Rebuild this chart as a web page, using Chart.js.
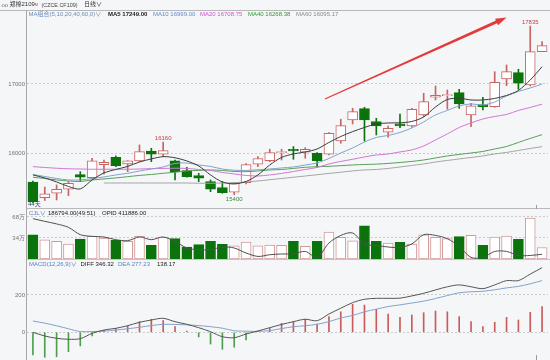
<!DOCTYPE html>
<html><head><meta charset="utf-8">
<script src="https://cdn.jsdelivr.net/npm/chart.js@4.4.0/dist/chart.umd.min.js"></script>
<style>
html,body{margin:0;padding:0;background:#f5f6f8;}
#wrap{position:relative;width:550px;height:360px;overflow:hidden;background:#f5f6f8;font-family:"Liberation Sans",Arial,"Noto Sans CJK SC",sans-serif;}
canvas{position:absolute;left:0;top:0;}
.t{position:absolute;white-space:nowrap;font-size:6px;line-height:7px;}
.ln{position:absolute;background:#b8b8b8;}
</style></head><body>
<div id="wrap">
  <canvas id="cPrice" width="550" height="360"></canvas>
  <canvas id="cVol" width="550" height="360"></canvas>
  <canvas id="cMacd" width="550" height="360"></canvas>

  <div class="ln" style="left:0;top:10px;width:550px;height:1px;"></div>
  <div class="ln" style="left:26px;top:10px;width:1px;height:350px;background:#a8a8a8"></div>
  <div class="ln" style="left:27px;top:208px;width:523px;height:1px;"></div>
  <div class="ln" style="left:27px;top:259px;width:523px;height:1px;background:#c4c4c4"></div>
  <div class="ln" style="left:536px;top:205px;width:1px;height:4px;background:#999"></div>
  <div class="ln" style="left:536px;top:355px;width:1px;height:5px;background:#999"></div>

  <div class="t" style="left:1.5px;top:1.5px;color:#777;">oo</div>
  <div class="t" style="left:9.5px;top:1.2px;color:#333;font-size:6px;">郑棉2109<span style="color:#d04040;font-size:4px;vertical-align:top;">M</span></div>
  <div class="t" style="left:41.5px;top:1.5px;color:#444;font-size:5.4px;">(CZCE CF109)</div>
  <div class="t" style="left:84px;top:1.2px;color:#333;">日线∨</div>

  <div class="t" id="lgMA" style="left:28.5px;top:11px;color:#6c8cbc;"></div>
  <div class="t" id="lgMA5" style="left:108px;top:11px;color:#222;font-weight:bold;"></div>
  <div class="t" id="lgMA10" style="left:153px;top:11px;color:#5f8ac8;"></div>
  <div class="t" id="lgMA20" style="left:200px;top:11px;color:#d050d0;"></div>
  <div class="t" id="lgMA40" style="left:248px;top:11px;color:#2f9a2f;"></div>
  <div class="t" id="lgMA60" style="left:296px;top:11px;color:#8a8a8a;"></div>

  <div class="t" style="left:29px;top:210px;color:#5b7fc0;">CJL∨</div>
  <div class="t" id="lgVol" style="left:48px;top:210px;color:#222;"></div>
  <div class="t" id="lgOI" style="left:102px;top:210px;color:#222;"></div>

  <div class="t" id="lgMacd" style="left:29px;top:261px;color:#5b7fc0;"></div>
  <div class="t" id="lgDiff" style="left:80.5px;top:261px;color:#222;"></div>
  <div class="t" id="lgDea" style="left:118px;top:261px;color:#5b86c5;"></div>
  <div class="t" id="lgHist" style="left:157px;top:261px;color:#222;"></div>
</div>
<script>
// ---------- data ----------
const DAYS = ['1','2','3','4','5','6','7','8','9','10','11','12','13','14','15','16','17','18','19','20','21','22','23','24','25','26','27','28','29','30','31','32','33','34','35','36','37','38','39','40','41','42','43','44'];
const OPEN  = [15584,15358,15423,15481,15691,15648,15836,15942,15846,15889,16033,15986,15889,15749,15677,15590,15504,15437,15576,15841,15893,16009,16058,16014,16000,15986,16177,16481,16644,16456,16303,16423,16394,16553,16808,16831,16874,16553,16701,16672,17072,17163,16986,17466];
const HIGH  = [15600,15512,15543,15590,15734,15928,15903,15961,15893,16120,16072,16160,15903,15798,15711,15615,15590,15580,15850,15951,16058,16058,16096,16081,16009,16298,16491,16649,16664,16505,16394,16567,16649,16866,16971,16913,16923,16722,16808,17177,17274,17212,17835,17612];
const LOW   = [15290,15319,15326,15388,15590,15629,15701,15806,15734,15879,15879,15951,15615,15654,15590,15446,15423,15400,15557,15807,15879,15903,15913,15928,15798,15976,16144,16423,16177,16264,16231,16369,16375,16528,16769,16635,16649,16384,16625,16664,16975,16923,16971,17466];
const CLOSE = [15300,15416,15481,15567,15654,15889,15870,15821,15889,16023,15986,16038,15734,15662,15639,15481,15431,15567,15836,15922,16009,16023,16033,16058,15893,16289,16398,16600,16481,16394,16361,16394,16635,16745,16837,16841,16711,16683,16672,17025,17177,17010,17466,17553];

const MA_PERIODS = [5,10,20,40,60,0];
const MA5  = [15687,15644,15586,15521,15485,15615,15716,15766,15810,15874,15918,15951,15935,15889,15817,15687,15586,15557,15593,15687,15831,15940,15990,16019,16062,16156,16242,16312,16372,16423,16437,16440,16459,16524,16668,16776,16794,16769,16769,16791,16834,16906,17058,17249.00];
const MA10 = [15694,15665,15636,15615,15615,15636,15658,15687,15711,15744,15773,15802,15853,15860,15831,15810,15773,15755,15752,15762,15773,15788,15802,15831,15860,15925,16004,16076,16163,16228,16257,16300,16365,16452,16553,16618,16683,16711,16697,16740,16827,16892,16942,16999.00];
const MA20 = [15807,15795,15784,15776,15773,15769,15769,15769,15769,15773,15778,15781,15784,15781,15766,15752,15723,15701,15680,15672,15687,15709,15737,15766,15795,15846,15882,15913,15947,15975,15990,16019,16048,16105,16192,16279,16372,16437,16495,16531,16560,16618,16661,16708.75];
const MA40 = [15654,15636,15615,15600,15593,15615,15629,15644,15662,15680,15694,15711,15726,15745,15752,15759,15752,15737,15734,15745,15759,15766,15781,15798,15805,15812,15821,15831,15838,15843,15853,15867,15882,15903,15932,15961,15983,16004,16026,16062,16098,16156,16214,16268.38];
const MA60 = [null,null,null,null,null,null,15571,15571,15571,15571,15571,15571,15571,15571,15567,15567,15571,15576,15586,15600,15618,15636,15654,15672,15690,15709,15726,15745,15759,15766,15781,15802,15824,15846,15874,15896,15918,15939,15961,15990,16012,16040,16069,16095.17];

// volume and open interest in 万手
const VOLUME   = [39.3,31.2,28.5,24.3,32.4,36.6,34.0,30.1,28.5,36.6,22.0,35.6,32.9,19.4,23.2,28.5,23.7,21.5,27.5,21.5,22.7,22.0,28.5,20.4,28.5,43.7,35.0,29.6,53.9,28.5,25.9,26.9,24.3,39.3,35.0,32.9,36.1,38.2,22.0,35.6,37.2,31.7,66.4,18.6794];
const OPEN_INT = [44.10,43.88,43.67,43.39,42.79,42.65,42.60,42.38,42.30,42.60,42.38,42.60,42.24,41.70,41.56,41.56,41.78,41.70,41.29,41.01,41.15,41.21,41.23,41.42,40.93,42.11,42.73,42.93,42.03,41.91,41.78,41.75,42.03,42.79,42.73,42.46,41.83,40.93,40.93,41.42,41.42,41.09,41.09,41.1886];

const DIFF = [0,-19.8,-32.2,-37.5,-34.3,-5.4,12.3,21.4,35.4,53.6,65.9,75,56.8,42.9,24.7,3.2,-23.6,-29,-9.1,7,24.7,42,57,70,62,98,129,159,177,182,182,183,195,209,227,244,254,244,234,254,277,277,312,346.32];
const DEA  = [60.6,49,35,19,4,4,6,12,19,27,36,43,42,40,36,30,22,8,6,5,9,20,30,35,43,57,77,90,110,124,138,147,157,167,181,197,212,217,220,228,238,246,260,277.23];
const MACD = [-121,-134,-131,-104,-73,-20,10,21,34,57,70,63,30,6,-25,-63,-91,-80,-41,6,21,48,57,70,44,84,110,150,146,123,98,80,93,105,114,110,84,57,30,54,80,66,107,138.17];

const PRICE_TICKS = [16000,17000];
const VOL_TICKS = [34,68];
const MACD_TICKS = [0,200];
// marked local extremes (index into candles)
const MARKS = [{i:11,type:'high'},{i:17,type:'low'},{i:42,type:'high'}];

// ---------- styles ----------
const FONT = '"Liberation Sans", Arial, "Noto Sans CJK SC", sans-serif';
Chart.defaults.font.family = FONT;
const UP_LINE = '#c86464', DOWN = '#0b730b', UP_FILL = '#ffffff';
const isUp = i => CLOSE[i] >= OPEN[i];
const lineDs = (data, color, yAxisID) => ({type:'line', data, borderColor:color, borderWidth:1, pointRadius:0, tension:0.3, fill:false, order:0, yAxisID: yAxisID || 'y'});
const yAxis = (min, max, ticks, fmt) => ({
  min, max, position:'left',
  afterFit: s => { s.width = 27; s.paddingTop = 0; s.paddingBottom = 0; },
  afterBuildTicks: s => { s.ticks = ticks.map(v => ({value:v})); },
  ticks: {font:{size:6, family:FONT}, color:'#747474', padding:2, callback: fmt},
  grid: {color:'#cacaca', lineWidth:1, drawTicks:false},
  border: {display:false, dash:[2,2]}
});
const baseOpts = (pad, scales) => ({
  responsive:false, animation:false, devicePixelRatio:1, events:[],
  layout:{padding:pad},
  plugins:{legend:{display:false}, tooltip:{enabled:false}},
  scales: Object.assign({x:{type:'category', display:false, offset:true, grid:{display:false}}}, scales)
});

// ---------- legends ----------
const last = a => a[a.length-1];
document.getElementById('lgMA').textContent = 'MA组合(' + MA_PERIODS.join(',') + ')∨';
document.getElementById('lgMA5').textContent = 'MA5 ' + last(MA5).toFixed(2);
document.getElementById('lgMA10').textContent = 'MA10 ' + last(MA10).toFixed(2);
document.getElementById('lgMA20').textContent = 'MA20 ' + last(MA20).toFixed(2);
document.getElementById('lgMA40').textContent = 'MA40 ' + last(MA40).toFixed(2);
document.getElementById('lgMA60').textContent = 'MA60 ' + last(MA60).toFixed(2);
document.getElementById('lgVol').textContent = (last(VOLUME)*10000).toFixed(2) + '(49:51)';
document.getElementById('lgOI').textContent = 'OPID ' + (last(OPEN_INT)*10000).toFixed(2);
document.getElementById('lgMacd').textContent = 'MACD(12,26,9)∨';
document.getElementById('lgDiff').textContent = 'DIFF ' + last(DIFF).toFixed(2);
document.getElementById('lgDea').textContent = 'DEA ' + last(DEA).toFixed(2);
document.getElementById('lgHist').textContent = last(MACD).toFixed(2);

// ---------- annotation plugin (extreme labels, arrow, day count) ----------
const ARROW_FROM = [24.66, 16784], ARROW_TO = [40.0, 17960];
const markPlugin = {
  id:'marks',
  afterDatasetsDraw(chart){
    const {ctx, chartArea} = chart, x = chart.scales.x, y = chart.scales.y;
    ctx.save();
    ctx.font = '6px ' + FONT;
    ctx.textAlign = 'center';
    MARKS.forEach(m => {
      const px = x.getPixelForValue(m.i);
      if (m.type === 'high') {
        ctx.fillStyle = '#c83c3c'; ctx.textBaseline = 'bottom';
        ctx.fillText(String(HIGH[m.i]), px, y.getPixelForValue(HIGH[m.i]) - 1);
      } else {
        ctx.fillStyle = '#3a8a3a'; ctx.textBaseline = 'top';
        ctx.fillText(String(LOW[m.i]), px, y.getPixelForValue(LOW[m.i]) + 1.5);
      }
    });
    // arrow
    const x1 = x.getPixelForValue(ARROW_FROM[0]), y1 = y.getPixelForValue(ARROW_FROM[1]);
    const x2 = x.getPixelForValue(ARROW_TO[0]), y2 = y.getPixelForValue(ARROW_TO[1]);
    const L = Math.hypot(x2-x1, y2-y1), ux = (x2-x1)/L, uy = (y2-y1)/L, nx = -uy, ny = ux;
    const hl = 11, bx = x2 - ux*hl, by = y2 - uy*hl;
    ctx.fillStyle = '#e23b3b';
    ctx.beginPath();
    ctx.moveTo(x1 + nx*0.5, y1 + ny*0.5);
    ctx.lineTo(bx + nx*1.5, by + ny*1.5);
    ctx.lineTo(bx + nx*3.6, by + ny*3.6);
    ctx.lineTo(x2, y2);
    ctx.lineTo(bx - nx*3.6, by - ny*3.6);
    ctx.lineTo(bx - nx*1.5, by - ny*1.5);
    ctx.lineTo(x1 - nx*0.5, y1 - ny*0.5);
    ctx.closePath(); ctx.fill();
    // day count
    ctx.textAlign = 'left'; ctx.textBaseline = 'bottom'; ctx.fillStyle = '#2d4c7c';
    ctx.fillText(DAYS.length + '天', chartArea.left + 1, chartArea.bottom - 0.5);
    ctx.restore();
  }
};

// ---------- price panel ----------
new Chart(document.getElementById('cPrice'), {
  type:'bar',
  data:{ labels:DAYS, datasets:[
    lineDs(MA5, '#3c3c3c'),
    lineDs(MA10, '#82a2cc'),
    lineDs(MA20, '#d276d2'),
    lineDs(MA40, '#55a055'),
    lineDs(MA60, '#a4a4a4'),
    {type:'bar', data: DAYS.map((d,i) => [OPEN[i], CLOSE[i]]),
     backgroundColor: DAYS.map((d,i) => isUp(i) ? UP_FILL : DOWN),
     borderColor: DAYS.map((d,i) => isUp(i) ? UP_LINE : DOWN),
     borderWidth:1, borderSkipped:false, barThickness:10, minBarLength:1, grouped:false, order:1},
    {type:'bar', data: DAYS.map((d,i) => [LOW[i], HIGH[i]]),
     backgroundColor: DAYS.map((d,i) => isUp(i) ? UP_LINE : DOWN),
     borderWidth:0, barThickness:1, grouped:false, order:2}
  ]},
  options: baseOpts({top:11, right:2, left:0, bottom:152}, {y: yAxis(15210, 18053, PRICE_TICKS, v => String(v))}),
  plugins:[markPlugin]
});

// ---------- volume panel ----------
new Chart(document.getElementById('cVol'), {
  type:'bar',
  data:{ labels:DAYS, datasets:[
    lineDs(OPEN_INT, '#505050', 'oi'),
    {type:'bar', data: VOLUME,
     backgroundColor: DAYS.map((d,i) => isUp(i) ? UP_FILL : DOWN),
     borderColor: DAYS.map((d,i) => isUp(i) ? '#d39a9a' : DOWN),
     borderWidth:1, borderSkipped:false, barThickness:10, order:1}
  ]},
  options: baseOpts({top:209, right:2, left:0, bottom:101}, {
    y: yAxis(0, 80.95, VOL_TICKS, v => v + '万'),
    oi: {display:false, min:40.8, max:44.89}
  })
});

// ---------- MACD panel ----------
new Chart(document.getElementById('cMacd'), {
  type:'bar',
  data:{ labels:DAYS, datasets:[
    lineDs(DIFF, '#555555'),
    lineDs(DEA, '#82a2cc'),
    {type:'bar', data: MACD,
     backgroundColor: MACD.map(v => v >= 0 ? '#c85c5c' : '#4e9e4e'),
     borderWidth:0, barThickness:1, order:2}
  ]},
  options: baseOpts({top:260, right:2, left:0, bottom:0}, {y: yAxis(-148.5, 387.5, MACD_TICKS, v => String(v))})
});
</script>
</body></html>
